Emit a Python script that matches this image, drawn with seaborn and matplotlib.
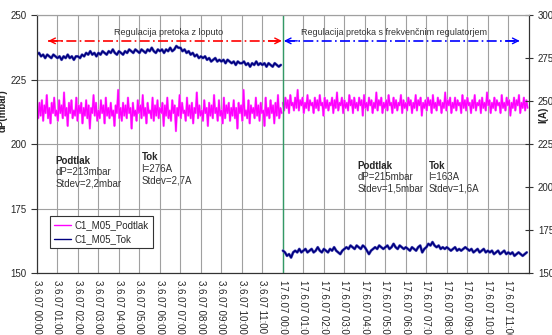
import numpy as np
import pandas as pd
import seaborn as sns
import matplotlib.pyplot as plt
from matplotlib.lines import Line2D

# dP (mbar), first run - regulation with damper (3.6.07 00:00-12:00)
podtlak_a = [
    214, 210, 216, 211, 217, 209, 215, 212, 219, 210, 214, 208, 216, 212, 218, 211, 213, 209, 217, 212,
    215, 210, 220, 211, 214, 207, 216, 212, 217, 210, 213, 211, 218, 209, 215, 212, 216, 208, 214, 211,
    217, 210, 215, 206, 214, 212, 219, 211, 216, 209, 213, 210, 217, 212, 215, 208, 218, 211, 214, 210,
    216, 211, 213, 207, 215, 212, 221, 210, 214, 209, 216, 211, 215, 210, 218, 212, 214, 206, 216, 211,
    213, 209, 217, 212, 215, 210, 219, 211, 214, 208, 216, 212, 213, 210, 218, 209, 215, 211, 217, 210,
    214, 212, 216, 207, 215, 211, 218, 210, 213, 209, 217, 212, 215, 205, 214, 211, 219, 210, 216, 212,
    213, 209, 218, 211, 215, 210, 216, 208, 214, 212, 220, 210, 215, 211, 213, 209, 217, 212, 214, 207,
    216, 211, 215, 210, 219, 212, 214, 209, 217, 211, 213, 208, 218, 210, 215, 212, 216, 209, 214, 211,
    217, 210, 214, 206, 216, 212, 215, 209, 221, 211, 213, 210, 217, 208, 215, 212, 214, 210, 218, 211,
    215, 209, 216, 212, 213, 207, 218, 211, 214, 210, 217, 212, 215, 208, 216, 211, 219, 210, 214, 212,
]
# dP (mbar), second run - frequency converter (17.6.07 00:00-12:00)
podtlak_b = [
    216, 213, 218, 214, 217, 212, 219, 215, 216, 213, 218, 214, 221, 213, 217, 215, 218, 212, 216, 214,
    219, 213, 217, 215, 216, 212, 218, 214, 217, 213, 219, 215, 216, 211, 218, 214, 217, 213, 216, 215,
    218, 212, 217, 214, 220, 213, 216, 215, 218, 212, 217, 214, 216, 213, 219, 215, 217, 212, 218, 214,
    216, 213, 218, 215, 217, 211, 219, 214, 216, 213, 218, 215, 217, 212, 216, 214, 220, 213, 217, 215,
    218, 212, 216, 214, 217, 213, 219, 215, 216, 212, 218, 214, 217, 213, 216, 215, 219, 212, 217, 214,
    216, 213, 218, 215, 217, 212, 216, 214, 219, 213, 217, 215, 218, 211, 216, 214, 217, 213, 218, 215,
    217, 212, 219, 214, 216, 213, 218, 215, 217, 212, 216, 214, 220, 213, 217, 215, 218, 212, 216, 214,
    218, 213, 217, 215, 216, 212, 219, 214, 217, 213, 218, 215, 216, 212, 217, 214, 219, 213, 216, 215,
    217, 212, 218, 214, 216, 213, 220, 215, 217, 212, 216, 214, 218, 213, 217, 215, 216, 212, 219, 214,
    216, 213, 218, 215, 217, 211, 216, 214, 218, 213, 217, 215, 219, 212, 216, 214, 218, 213, 217, 214,
]
# current I (A), ten samples per hour
tok_a = [
    277, 278, 276, 277, 275, 277, 276, 275, 277, 276,
    275, 276, 274, 276, 275, 277, 275, 276, 274, 276,
    276, 275, 277, 276, 278, 277, 279, 277, 278, 276,
    278, 277, 279, 278, 277, 279, 278, 280, 278, 277,
    279, 278, 277, 279, 278, 280, 279, 278, 280, 279,
    278, 280, 279, 278, 280, 279, 281, 279, 278, 280,
    279, 280, 278, 280, 279, 281, 279, 280, 282, 281,
    281, 279, 280, 278, 279, 277, 278, 276, 277, 275,
    276, 275, 276, 274, 275, 273, 274, 275, 273, 274,
    273, 274, 272, 274, 273, 272, 273, 271, 273, 272,
    272, 273, 271, 272, 270, 272, 271, 273, 271, 272,
    271, 272, 270, 272, 271, 270, 272, 271, 270, 271,
]
tok_b = [
    163, 162, 160, 161, 159, 162, 163, 162, 164, 162,
    163, 164, 162, 163, 164, 162, 163, 165, 163, 162,
    164, 163, 162, 164, 163, 165, 163, 162, 161, 163,
    164, 165, 164, 166, 165, 164, 166, 165, 164, 166,
    165, 163, 161, 163, 164, 165, 164, 166, 165, 164,
    165, 166, 164, 165, 167, 165, 164, 166, 165, 164,
    165, 164, 163, 165, 164, 163, 165, 166, 162, 164,
    165, 167, 166, 168, 166, 165, 166, 164, 165, 164,
    165, 164, 163, 164, 165, 163, 164, 163, 164, 165,
    164, 163, 164, 162, 163, 164, 162, 163, 164, 162,
    163, 162, 163, 161, 162, 163, 161, 162, 163, 161,
    162, 161, 162, 160, 161, 162, 161, 160, 161, 162,
]

tick_labels = ['3.6.07 %02d:00' % h for h in range(12)] + ['17.6.07 %02d:00' % h for h in range(12)]


def run_df(values, start, name):
    t = start + np.arange(len(values)) * 12.0 / len(values)
    return pd.DataFrame({'t': t, 'v': values, 'serija': name})


df_p_a = run_df(podtlak_a, 0, 'C1_M05_Podtlak')
df_p_b = run_df(podtlak_b, 12, 'C1_M05_Podtlak')
df_t_a = run_df(tok_a, 0, 'C1_M05_Tok')
df_t_b = run_df(tok_b, 12, 'C1_M05_Tok')

sns.set_style('white')
plt.rcParams['font.family'] = ['Liberation Sans', 'DejaVu Sans']

PINK = '#ff00ff'
NAVY = '#000080'

fig = plt.figure(figsize=(5.52, 3.35), dpi=100)
ax = fig.add_axes([0.067, 0.185, 0.891, 0.770])
ax2 = ax.twinx()

for d in (df_p_a, df_p_b):
    sns.lineplot(data=d, x='t', y='v', ax=ax, color='#ff80ff', lw=1.6, estimator=None)
    sns.lineplot(data=d, x='t', y='v', ax=ax, color=PINK, lw=1.0, estimator=None)
for d in (df_t_a, df_t_b):
    sns.lineplot(data=d, x='t', y='v', ax=ax2, color='#6060c0', lw=2.0, estimator=None)
    sns.lineplot(data=d, x='t', y='v', ax=ax2, color=NAVY, lw=1.2, estimator=None)

ax.set_xlim(0, 24)
ax.set_ylim(150, 250)
ax2.set_ylim(150, 300)
ax.set_yticks([150, 175, 200, 225, 250])
ax2.set_yticks([150, 175, 200, 225, 250, 275, 300])
ax.set_xticks(range(24))
ax.set_xticklabels(tick_labels, rotation=-90, fontsize=7, va='top', ha='center')
ax.tick_params(axis='y', labelsize=7, direction='out', length=4, width=0.8, color='#333333')
ax.tick_params(axis='x', direction='out', length=3, width=0.8, color='#333333', pad=2)
ax2.tick_params(axis='y', labelsize=7, direction='inout', length=6, width=0.8, color='#333333')

ax.grid(True, color='#a0a0a0', lw=0.8)
ax.set_axisbelow(True)
ax.spines['top'].set_color('#a0a0a0')
ax2.spines['top'].set_color('#a0a0a0')
for a in (ax, ax2):
    for s in ('left', 'bottom', 'right'):
        a.spines[s].set_color('#333333')
        a.spines[s].set_linewidth(0.8)

ax.axvline(12, color='#339966', lw=1.0, zorder=3)

ax.set_xlabel('')
ax.set_ylabel('dP(mbar)', fontsize=7, fontweight='bold')
ax.yaxis.set_label_coords(-0.059, 0.63)
ax2.set_ylabel('I(A)', fontsize=7, fontweight='bold', rotation=90)
ax2.yaxis.set_label_coords(1.02, 0.615)

# flow regulation arrows
ax.plot([0.55, 11.9], [240, 240], color='red', ls=(0, (6, 2, 1, 2)), lw=1.2)
ax.plot([12.1, 23.5], [240, 240], color='blue', ls=(0, (6, 2, 1, 2)), lw=1.2)
for x0, x1, c in [(1.2, 0.55, 'red'), (11.3, 11.95, 'red'), (12.7, 12.05, 'blue'), (22.9, 23.55, 'blue')]:
    ax.annotate('', xy=(x1, 240), xytext=(x0, 240),
                arrowprops=dict(arrowstyle='->', color=c, lw=1.0, shrinkA=0, shrinkB=0))
ax.text(6.4, 243.2, 'Regulacija pretoka z loputo', fontsize=6.5, ha='center', va='center', color='#333333')
ax.text(17.4, 243.2, 'Regulacija pretoka s frekvenčnim regulatorjem', fontsize=6.5,
        ha='center', va='center', color='#333333')

# statistics
stats = [(0.9, 193.5, 'Podtlak', 'dP=213mbar', 'Stdev=2,2mbar'),
         (5.1, 194.8, 'Tok', 'I=276A', 'Stdev=2,7A'),
         (15.65, 191.6, 'Podtlak', 'dP=215mbar', 'Stdev=1,5mbar'),
         (19.1, 191.6, 'Tok', 'I=163A', 'Stdev=1,6A')]
for x, y, head, l1, l2 in stats:
    ax.text(x, y, head, fontsize=7, fontweight='bold', va='center', ha='left')
    ax.text(x, y - 4.5, l1, fontsize=7, va='center', ha='left', color='#333333')
    ax.text(x, y - 8.8, l2, fontsize=7, va='center', ha='left', color='#333333')

handles = [Line2D([], [], color=PINK, lw=1), Line2D([], [], color=NAVY, lw=1)]
leg = ax2.legend(handles, ['C1_M05_Podtlak', 'C1_M05_Tok'], loc='lower left',
                 bbox_to_anchor=(0.016, 0.078), fontsize=7, frameon=True, fancybox=False,
                 edgecolor='#333333', framealpha=1, handlelength=1.8, borderpad=0.4,
                 labelspacing=0.4, handletextpad=0.4)
leg.get_frame().set_linewidth(0.8)

fig.savefig('out.png', dpi=100)
